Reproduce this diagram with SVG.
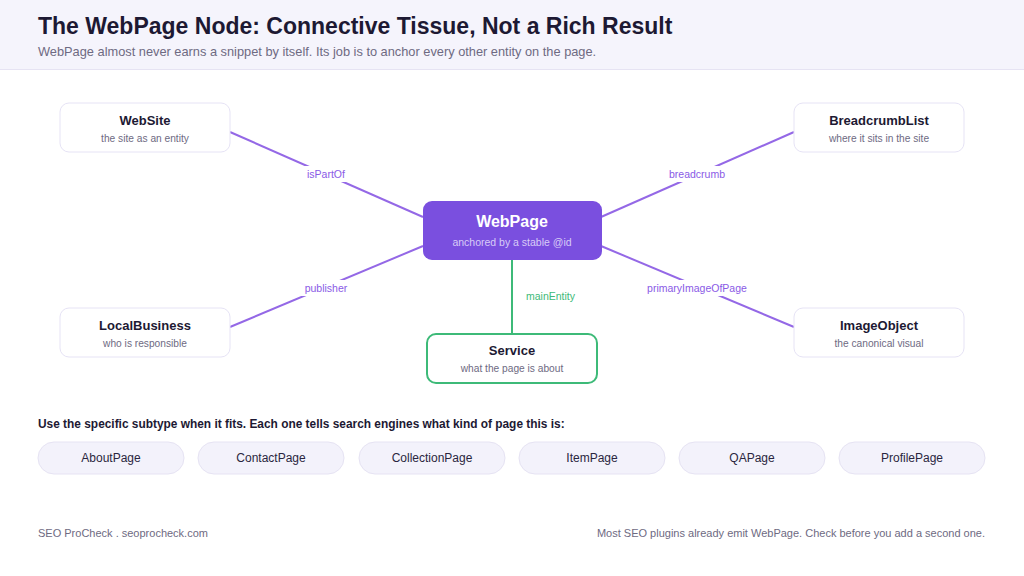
<svg xmlns="http://www.w3.org/2000/svg" width="1024" height="576" viewBox="0 0 1024 576">
<defs>
<style>
text{font-family:"Liberation Sans",Arial,sans-serif}
.title{font-size:23px;font-weight:bold;fill:#1d1933}
.subtitle{font-size:12.8px;fill:#6e6a82}
.box{fill:#ffffff;stroke:#e6e3f5;stroke-width:1}
.nt{font-size:13px;font-weight:bold;fill:#1d1933;text-anchor:middle}
.ns{font-size:10.2px;fill:#6e6a82;text-anchor:middle}
.edge{stroke:#9468e6;stroke-width:2;fill:none}
.lbl{font-size:10.5px;fill:#8a5ae6;text-anchor:middle}
.lblbg{fill:#ffffff}
.pill{fill:#f3f2fb;stroke:#e6e3f3;stroke-width:1}
.pt{font-size:12px;fill:#2a2640;text-anchor:middle}
.foot{font-size:11px;fill:#6e6a82}
</style>
</defs>
<rect x="0" y="0" width="1024" height="576" fill="#ffffff"/>
<g id="header">
<rect x="0" y="0" width="1024" height="69" fill="#f5f4fc"/>
<line x1="0" y1="69.5" x2="1024" y2="69.5" stroke="#e6e3f3" stroke-width="1"/>
<text class="title" x="38" y="34">The WebPage Node: Connective Tissue, Not a Rich Result</text>
<text class="subtitle" x="38" y="56">WebPage almost never earns a snippet by itself. Its job is to anchor every other entity on the page.</text>
</g>
<g id="connectors">
<line class="edge" x1="230" y1="132" x2="423" y2="217"/>
<line class="edge" x1="794" y1="132" x2="601" y2="217"/>
<line class="edge" x1="230" y1="327" x2="423" y2="246"/>
<line class="edge" x1="794" y1="327" x2="601" y2="246"/>
<line x1="512" y1="259" x2="512" y2="334" stroke="#3dba78" stroke-width="2"/>
<rect class="lblbg" x="302" y="166" width="48" height="16"/>
<text class="lbl" x="326" y="178">isPartOf</text>
<rect class="lblbg" x="667" y="166" width="62" height="16"/>
<text class="lbl" x="697" y="178">breadcrumb</text>
<rect class="lblbg" x="300" y="280" width="52" height="16"/>
<text class="lbl" x="326" y="292">publisher</text>
<rect class="lblbg" x="646" y="280" width="103" height="16"/>
<text class="lbl" x="697" y="292">primaryImageOfPage</text>
<text x="526" y="300" font-size="10.5" fill="#3dba78">mainEntity</text>
</g>
<g id="node-website">
<rect class="box" x="60" y="103" width="170" height="49" rx="9"/>
<text class="nt" x="145" y="125">WebSite</text>
<text class="ns" x="145" y="142">the site as an entity</text>
</g>
<g id="node-breadcrumblist">
<rect class="box" x="794" y="103" width="170" height="49" rx="9"/>
<text class="nt" x="879" y="125">BreadcrumbList</text>
<text class="ns" x="879" y="142">where it sits in the site</text>
</g>
<g id="node-localbusiness">
<rect class="box" x="60" y="308" width="170" height="49" rx="9"/>
<text class="nt" x="145" y="330">LocalBusiness</text>
<text class="ns" x="145" y="347">who is responsible</text>
</g>
<g id="node-imageobject">
<rect class="box" x="794" y="308" width="170" height="49" rx="9"/>
<text class="nt" x="879" y="330">ImageObject</text>
<text class="ns" x="879" y="347">the canonical visual</text>
</g>
<g id="node-webpage">
<rect x="423" y="201" width="179" height="59" rx="9" fill="#7a4fdf"/>
<text x="512" y="227" font-size="16" font-weight="bold" fill="#ffffff" text-anchor="middle">WebPage</text>
<text x="512" y="246" font-size="10.5" fill="#d8ccf7" text-anchor="middle">anchored by a stable @id</text>
</g>
<g id="node-service">
<rect x="427" y="334" width="170" height="49" rx="9" fill="#ffffff" stroke="#3dba78" stroke-width="2"/>
<text class="nt" x="512" y="355">Service</text>
<text class="ns" x="512" y="372">what the page is about</text>
</g>
<g id="subtypes">
<text x="38" y="428" font-size="11.9" font-weight="bold" fill="#1d1933">Use the specific subtype when it fits. Each one tells search engines what kind of page this is:</text>
<g id="pill-about"><rect class="pill" x="38" y="442" width="146" height="32" rx="16"/><text class="pt" x="111" y="462">AboutPage</text></g>
<g id="pill-contact"><rect class="pill" x="198" y="442" width="146" height="32" rx="16"/><text class="pt" x="271" y="462">ContactPage</text></g>
<g id="pill-collection"><rect class="pill" x="359" y="442" width="146" height="32" rx="16"/><text class="pt" x="432" y="462">CollectionPage</text></g>
<g id="pill-item"><rect class="pill" x="519" y="442" width="146" height="32" rx="16"/><text class="pt" x="592" y="462">ItemPage</text></g>
<g id="pill-qa"><rect class="pill" x="679" y="442" width="146" height="32" rx="16"/><text class="pt" x="752" y="462">QAPage</text></g>
<g id="pill-profile"><rect class="pill" x="839" y="442" width="146" height="32" rx="16"/><text class="pt" x="912" y="462">ProfilePage</text></g>
</g>
<g id="footer">
<text class="foot" x="38" y="537">SEO ProCheck . seoprocheck.com</text>
<text class="foot" x="985" y="537" text-anchor="end">Most SEO plugins already emit WebPage. Check before you add a second one.</text>
</g>
</svg>
